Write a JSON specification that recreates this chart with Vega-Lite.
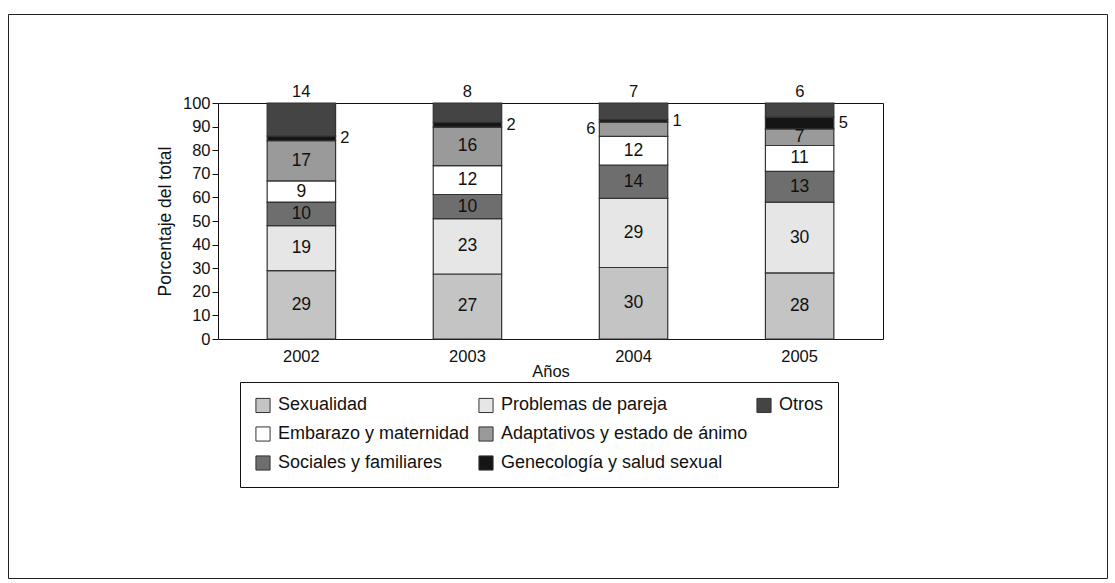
{
  "$schema": "https://vega.github.io/schema/vega-lite/v6.json",
  "autosize": "none",
  "width": 1099,
  "height": 564,
  "padding": {"left": 8, "top": 14, "right": 8, "bottom": 5},
  "background": "white",
  "config": {
    "font": "Liberation Sans",
    "view": {"stroke": "#222", "strokeWidth": 1},
    "axis": {"labelFont": "Liberation Sans", "titleFont": "Liberation Sans", "labelColor": "#111", "titleColor": "#111", "domainColor": "#111", "tickColor": "#111", "grid": false, "titleFontWeight": "normal"}
  },
  "data": {
    "values": [
      {"year": "2002", "cat": "Sexualidad", "value": 29},
      {"year": "2002", "cat": "Problemas de pareja", "value": 19},
      {"year": "2002", "cat": "Sociales y familiares", "value": 10},
      {"year": "2002", "cat": "Embarazo y maternidad", "value": 9},
      {"year": "2002", "cat": "Adaptativos y estado de ánimo", "value": 17},
      {"year": "2002", "cat": "Genecología y salud sexual", "value": 2},
      {"year": "2002", "cat": "Otros", "value": 14},
      {"year": "2003", "cat": "Sexualidad", "value": 27},
      {"year": "2003", "cat": "Problemas de pareja", "value": 23},
      {"year": "2003", "cat": "Sociales y familiares", "value": 10},
      {"year": "2003", "cat": "Embarazo y maternidad", "value": 12},
      {"year": "2003", "cat": "Adaptativos y estado de ánimo", "value": 16},
      {"year": "2003", "cat": "Genecología y salud sexual", "value": 2},
      {"year": "2003", "cat": "Otros", "value": 8},
      {"year": "2004", "cat": "Sexualidad", "value": 30},
      {"year": "2004", "cat": "Problemas de pareja", "value": 29},
      {"year": "2004", "cat": "Sociales y familiares", "value": 14},
      {"year": "2004", "cat": "Embarazo y maternidad", "value": 12},
      {"year": "2004", "cat": "Adaptativos y estado de ánimo", "value": 6},
      {"year": "2004", "cat": "Genecología y salud sexual", "value": 1},
      {"year": "2004", "cat": "Otros", "value": 7},
      {"year": "2005", "cat": "Sexualidad", "value": 28},
      {"year": "2005", "cat": "Problemas de pareja", "value": 30},
      {"year": "2005", "cat": "Sociales y familiares", "value": 13},
      {"year": "2005", "cat": "Embarazo y maternidad", "value": 11},
      {"year": "2005", "cat": "Adaptativos y estado de ánimo", "value": 7},
      {"year": "2005", "cat": "Genecología y salud sexual", "value": 5},
      {"year": "2005", "cat": "Otros", "value": 6}
    ]
  },
  "transform": [
    {"calculate": "indexof(['Sexualidad','Problemas de pareja','Sociales y familiares','Embarazo y maternidad','Adaptativos y estado de ánimo','Genecología y salud sexual','Otros'], datum.cat)", "as": "ord"},
    {"stack": "value", "groupby": ["year"], "sort": [{"field": "ord", "order": "ascending"}], "offset": "normalize", "as": ["y0", "y1"]},
    {"calculate": "(datum.y0 + datum.y1) / 2", "as": "mid"}
  ],
  "resolve": {"scale": {"x": "independent", "y": "independent"}},
  "layer": [
    {
      "encoding": {
        "x": {
          "field": "year", "type": "nominal",
          "scale": {"range": [210, 875], "paddingInner": 0.588, "paddingOuter": 0.296},
          "axis": {"title": "Años", "orient": "bottom", "offset": -239, "labelAngle": 0, "ticks": false, "labelFontSize": 16.5, "labelPadding": 9, "titleFontSize": 16.5, "titlePadding": -1}
        }
      },
      "layer": [
        {
          "mark": {"type": "bar", "stroke": "#333", "strokeWidth": 1.2},
          "encoding": {
            "y": {
              "field": "y0", "type": "quantitative",
              "scale": {"domain": [0, 1], "nice": false, "range": [325, 89]},
              "axis": {"title": "Porcentaje del total", "orient": "left", "offset": -210, "values": [0, 0.1, 0.2, 0.3, 0.4, 0.5, 0.6, 0.7, 0.8, 0.9, 1], "labelExpr": "round(datum.value * 100)", "labelOverlap": false, "labelFontSize": 16.5, "titleFontSize": 17.5, "tickSize": 6, "labelPadding": 2, "titlePadding": 8}
            },
            "y2": {"field": "y1"},
            "color": {
              "field": "cat", "type": "nominal",
              "scale": {
                "domain": ["Sexualidad", "Problemas de pareja", "Sociales y familiares", "Embarazo y maternidad", "Adaptativos y estado de ánimo", "Genecología y salud sexual", "Otros"],
                "range": ["#c4c4c4", "#e6e6e6", "#6e6e6e", "#ffffff", "#9a9a9a", "#151515", "#444444"]
              },
              "legend": {
                "title": null,
                "orient": "none",
                "legendX": 232,
                "legendY": 368,
                "columns": 3,
                "values": ["Sexualidad", "Embarazo y maternidad", "Sociales y familiares", "Problemas de pareja", "Adaptativos y estado de ánimo", "Genecología y salud sexual", "Otros", " "],
                "symbolType": "square",
                "symbolSize": 200,
                "symbolStrokeColor": "#333",
                "symbolStrokeWidth": 1,
                "labelFont": "Liberation Sans",
                "labelFontSize": 18,
                "labelColor": "#111",
                "labelLimit": 400,
                "labelOffset": 6,
                "rowPadding": 9,
                "columnPadding": 6,
                "padding": 14,
                "strokeColor": "#111",
                "fillColor": "white",
                "encode": {"symbols": {"update": {"opacity": {"signal": "datum.value === ' ' ? 0 : 1"}}}}
              }
            }
          }
        },
        {
          "transform": [{"filter": "datum.cat !== 'Otros' && datum.cat !== 'Genecología y salud sexual' && !(datum.year === '2004' && datum.ord === 4)"}],
          "mark": {"type": "text", "fontSize": 17.5, "font": "Liberation Sans", "color": "#111", "baseline": "middle"},
          "encoding": {"y": {"field": "mid", "type": "quantitative"}, "text": {"field": "value"}}
        },
        {
          "transform": [{"filter": "datum.cat === 'Genecología y salud sexual'"}],
          "mark": {"type": "text", "fontSize": 16.5, "font": "Liberation Sans", "color": "#111", "baseline": "middle", "align": "left", "dx": 39},
          "encoding": {"y": {"field": "mid", "type": "quantitative"}, "text": {"field": "value"}}
        },
        {
          "transform": [{"filter": "datum.year === '2004' && datum.ord === 4"}],
          "mark": {"type": "text", "fontSize": 16.5, "font": "Liberation Sans", "color": "#111", "baseline": "middle", "align": "right", "dx": -38},
          "encoding": {"y": {"field": "mid", "type": "quantitative"}, "text": {"field": "value"}}
        }
      ]
    },
    {
      "transform": [{"filter": "datum.cat === 'Otros'"}],
      "mark": {"type": "text", "fontSize": 16.5, "font": "Liberation Sans", "color": "#111", "baseline": "middle", "dy": -11},
      "encoding": {
        "x": {
          "field": "year", "type": "nominal",
          "scale": {"range": [210, 875], "paddingInner": 0.588, "paddingOuter": 0.296},
          "axis": {"title": null, "orient": "top", "offset": -89, "labels": false, "ticks": false, "domain": true}
        },
        "y": {
          "field": "y1", "type": "quantitative",
          "scale": {"domain": [0, 1], "nice": false, "range": [325, 89]},
          "axis": {"title": null, "orient": "right", "offset": -224, "labels": false, "ticks": false, "domain": true}
        },
        "text": {"field": "value"}
      }
    }
  ]
}
